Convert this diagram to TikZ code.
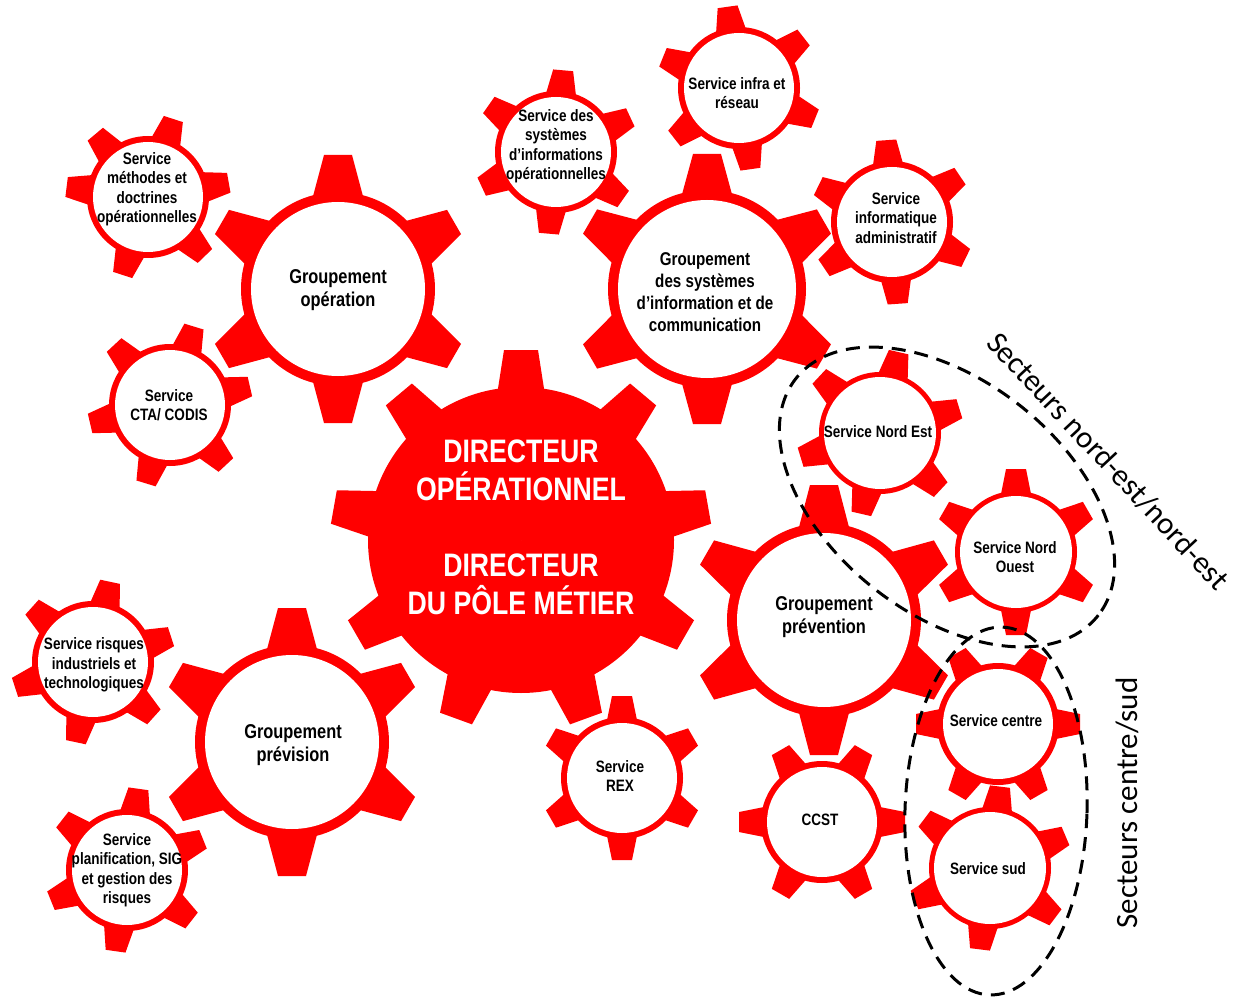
\documentclass[tikz,border=0pt]{standalone}
\usepackage{fontspec}
\newfontfamily\gfont[FakeStretch=0.82]{Liberation Sans}
\newfontfamily\secfont{Carlito}
\definecolor{gearred}{RGB}{255,0,0}
\tikzset{
  gbody/.style={circle, fill=gearred, inner sep=0pt, minimum size=#1},
  ginner/.style={circle, fill=white, inner sep=0pt, minimum size=#1},
  smalltxt/.style={align=center, text=black, inner sep=0pt, font=\gfont\bfseries\fontsize{16.5}{19.5}\selectfont},
  bigtxt/.style={align=center, text=black, inner sep=0pt, font=\gfont\bfseries\fontsize{20}{23.5}\selectfont},
  sictxt/.style={align=center, text=black, inner sep=0pt, font=\gfont\bfseries\fontsize{18.5}{22}\selectfont},
  centertxt/.style={align=center, text=white, inner sep=0pt, font=\gfont\bfseries\fontsize{32.5}{38}\selectfont},
  sectortxt/.style={inner sep=0pt, font=\secfont\fontsize{31}{36}\selectfont},
  sectorline/.style={draw=black, line width=3pt, dash pattern=on 14pt off 9pt}
}
% name, cx, cy, Rbody, Rtip, base half width, tip half width, inner radius, tooth angles
\newcommand{\gear}[9]{%
  \foreach \a in {#9}{\fill[gearred, shift={(#2,#3)}, rotate=\a] (#4-8,-#6-2) -- (#5,-#7) -- (#5,#7) -- (#4-8,#6+2) -- cycle;}
  \node[gbody={2*#4pt}] (#1) at (#2,#3) {};
  \node[ginner={2*#8pt}] (#1-in) at (#2,#3) {};
}
\begin{document}
\begin{tikzpicture}[x=1pt,y=-1pt]
\useasboundingbox (0,0) rectangle (1243,1003);
\fill[white] (0,0) rectangle (1243,1003);
% central gear
\gear{dir}{521}{540}{153}{190}{22}{17}{0}{90,130,170,210,250,290,330,10,50}
% large gears
\gear{gop}{338}{289}{97}{134}{24}{14}{87}{90,150,210,270,330,30}
\gear{gsic}{707}{289}{99}{135}{24}{14}{89}{90,150,210,270,330,30}
\gear{gprevi}{292}{742}{97}{134}{24}{14}{87}{90,150,210,270,330,30}
\gear{gpreve}{824}{620}{97}{135}{24}{14}{87}{90,150,210,270,330,30}
% small gears
\gear{smeth}{148}{197}{61}{82}{14}{10}{55}{10,72,130,173,252,314}
\gear{sssio}{556}{152}{61}{82}{14}{10}{55}{25,85,145,205,265,325}
\gear{sinfra}{739}{88}{61}{82}{14}{10}{55}{38,98,158,218,278,338}
\gear{sadmin}{892}{222}{61}{82}{14}{10}{55}{34,94,154,214,274,334}
\gear{scta}{170}{405}{61}{82}{14}{10}{55}{13,73,133,193,253,313}
\gear{srisq}{93}{662}{61}{82}{14}{10}{55}{18,78,138,198,258,318}
\gear{splan}{127}{870}{61}{82}{14}{10}{55}{22,82,142,202,262,322}
\gear{srex}{622}{778}{61}{82}{14}{10}{55}{30,90,150,210,270,330}
\gear{sccst}{822}{822}{61}{83}{14}{10}{55}{0,60,120,180,240,300}
\gear{sne}{880}{433}{61}{83}{14}{10}{56}{17,77,137,197,257,317}
\gear{sno}{1016}{552}{61}{83}{14}{10}{56}{30,90,150,210,270,330}
\gear{scentre}{998}{724}{61}{82}{14}{10}{55}{0,60,120,180,240,300}
\gear{ssud}{990}{868}{61}{82}{14}{10}{56}{23,83,143,203,263,323}
% texts
\node[centertxt] (tdir) at (521,527) {DIRECTEUR\\OPÉRATIONNEL\\[38pt]DIRECTEUR\\DU PÔLE MÉTIER};
\node[bigtxt] (tgop) at (338,290) {Groupement\\opération};
\node[sictxt] (tgsic) at (705,292) {Groupement\\des systèmes\\d’information et de\\communication};
\node[bigtxt] (tgprevi) at (293,745) {Groupement\\prévision};
\node[bigtxt] (tgpreve) at (824,617) {Groupement\\prévention};
\node[smalltxt] (tmeth) at (147,189) {Service\\méthodes et\\doctrines\\opérationnelles};
\node[smalltxt] (tssio) at (556,146) {Service des\\systèmes\\d’informations\\opérationnelles};
\node[smalltxt] (tinfra) at (737,93) {Service infra et\\réseau};
\node[smalltxt] (tadmin) at (896,218) {Service\\informatique\\administratif};
\node[smalltxt] (tcta) at (169,405) {Service\\CTA/ CODIS};
\node[smalltxt] (trisq) at (94,665) {Service risques\\industriels et\\technologiques};
\node[smalltxt] (tplan) at (127,870) {Service\\planification, SIG\\et gestion des\\risques};
\node[smalltxt] (trex) at (620,776) {Service\\REX};
\node[smalltxt] (tccst) at (820,820) {CCST};
\node[smalltxt] (tne) at (878,432) {Service Nord Est};
\node[smalltxt] (tno) at (1015,557) {Service Nord\\Ouest};
\node[smalltxt] (tcentre) at (996,721) {Service centre};
\node[smalltxt] (tsud) at (988,869) {Service sud};
% sector ellipses
\draw[sectorline, rotate around={-38:(947,497)}] (947,497) ellipse [x radius=192, y radius=117];
\draw[sectorline, rotate around={-2:(996,811)}] (996,811) ellipse [x radius=91, y radius=184];
\node[sectortxt, rotate=-47] (secne) at (1108,461) {Secteurs nord-est/nord-est};
\node[sectortxt, rotate=90] (seccs) at (1127,803) {Secteurs centre/sud};
\end{tikzpicture}
\end{document}
